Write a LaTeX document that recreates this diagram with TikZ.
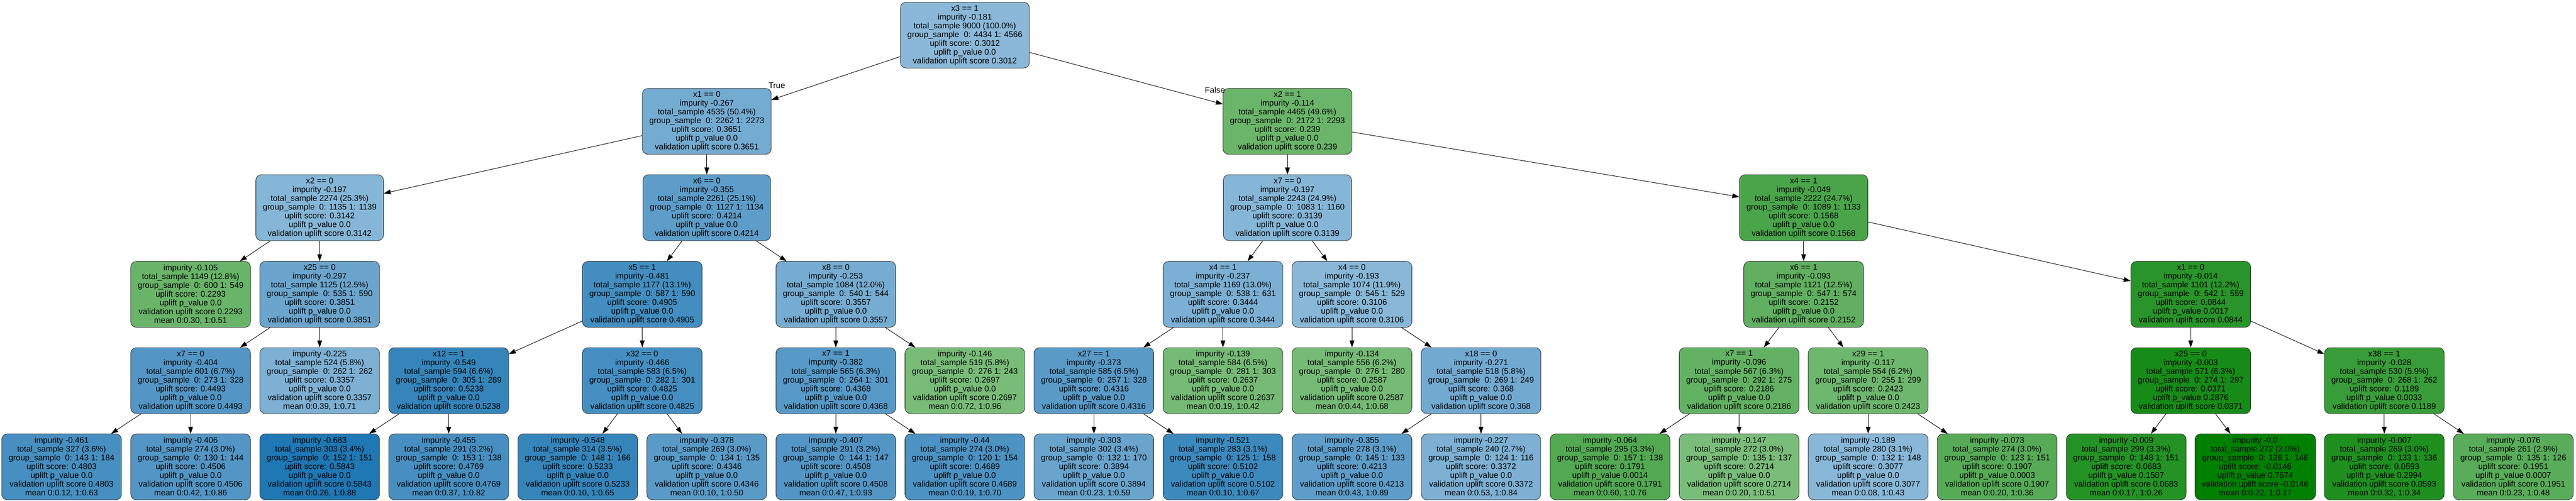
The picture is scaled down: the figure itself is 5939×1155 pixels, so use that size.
\documentclass[tikz,border=0pt]{standalone}
\usepackage{fontspec}
\setmainfont{Liberation Sans}
\usetikzlibrary{arrows.meta}
\definecolor{ublue}{RGB}{31,119,180}
\definecolor{ugreen}{RGB}{0,128,0}
\newcommand{\IntTxt}[7]{#1\\impurity #2\\total\_sample #3\\group\_sample\ \ 0: #4 1: #5\\uplift score: #6\\uplift p\_value #7\\validation uplift score #6}
\newcommand{\LeafTxt}[7]{impurity #1\\total\_sample #2\\group\_sample\ \ 0: #3 1: #4\\uplift score: #5\\uplift p\_value #6\\validation uplift score #5\\mean #7}
\begin{document}
\begin{tikzpicture}[x=1pt,y=-1pt,
 box/.style={draw=black!85, rounded corners=13pt, line width=1pt, align=center,
   inner xsep=16pt, inner ysep=0pt, minimum height=152pt,
   font=\fontsize{18.9pt}{20.2pt}\selectfont},
 bl/.style={box, fill=ublue!#1!white},
 gr/.style={box, fill=ugreen!#1!white},
 edge/.style={line width=1.1pt, -{Triangle[length=16pt,width=11pt]}},
 lbl/.style={font=\fontsize{18.9pt}{20.2pt}\selectfont, inner sep=0pt}]
\useasboundingbox (0,0) rectangle (5939,1155);
% level 0
\node[bl=52] (root) at (2224.5,81) {\IntTxt{x3 == 1}{-0.181}{9000 (100.0\%)}{4434}{4566}{0.3012}{0.0}};
% level 1
\node[bl=62] (n1) at (1629.5,280) {\IntTxt{x1 == 0}{-0.267}{4535 (50.4\%)}{2262}{2273}{0.3651}{0.0}};
\node[gr=58] (n2) at (2968.25,280) {\IntTxt{x2 == 1}{-0.114}{4465 (49.6\%)}{2172}{2293}{0.239}{0.0}};
% level 2
\node[bl=54] (n3) at (737,479) {\IntTxt{x2 == 0}{-0.197}{2274 (25.3\%)}{1135}{1139}{0.3142}{0.0}};
\node[bl=72] (n4) at (1629.5,479) {\IntTxt{x6 == 0}{-0.355}{2261 (25.1\%)}{1127}{1134}{0.4214}{0.0}};
\node[bl=54] (n5) at (2968.25,479) {\IntTxt{x7 == 0}{-0.197}{2243 (24.9\%)}{1083}{1160}{0.3139}{0.0}};
\node[gr=71] (n6) at (4158.25,479) {\IntTxt{x4 == 1}{-0.049}{2222 (24.7\%)}{1089}{1133}{0.1568}{0.0}};
% level 3
\node[gr=59] (n7) at (439.5,679) {\LeafTxt{-0.105}{1149 (12.8\%)}{600}{549}{0.2293}{0.0}{0:0.30, 1:0.51}};
\node[bl=66] (n8) at (737,679) {\IntTxt{x25 == 0}{-0.297}{1125 (12.5\%)}{535}{590}{0.3851}{0.0}};
\node[bl=84] (n9) at (1480.75,679) {\IntTxt{x5 == 1}{-0.481}{1177 (13.1\%)}{587}{590}{0.4905}{0.0}};
\node[bl=61] (n10) at (1927,679) {\IntTxt{x8 == 0}{-0.253}{1084 (12.0\%)}{540}{544}{0.3557}{0.0}};
\node[bl=59] (n11) at (2819.5,679) {\IntTxt{x4 == 1}{-0.237}{1169 (13.0\%)}{538}{631}{0.3444}{0.0}};
\node[bl=53] (n12) at (3117,679) {\IntTxt{x4 == 0}{-0.193}{1074 (11.9\%)}{545}{529}{0.3106}{0.0}};
\node[gr=62] (n13) at (4158.25,679) {\IntTxt{x6 == 1}{-0.093}{1121 (12.5\%)}{547}{574}{0.2152}{0.0}};
\node[gr=84] (n14) at (5050.75,679) {\IntTxt{x1 == 0}{-0.014}{1101 (12.2\%)}{542}{559}{0.0844}{0.0017}};
% level 4
\node[bl=77] (n15) at (439.5,878) {\IntTxt{x7 == 0}{-0.404}{601 (6.7\%)}{273}{328}{0.4493}{0.0}};
\node[bl=58] (n16) at (737,878) {\LeafTxt{-0.225}{524 (5.8\%)}{262}{262}{0.3357}{0.0}{0:0.39, 1:0.71}};
\node[bl=90] (n17) at (1034.5,878) {\IntTxt{x12 == 1}{-0.549}{594 (6.6\%)}{305}{289}{0.5238}{0.0}};
\node[bl=83] (n18) at (1480.75,878) {\IntTxt{x32 == 0}{-0.466}{583 (6.5\%)}{282}{301}{0.4825}{0.0}};
\node[bl=75] (n19) at (1927,878) {\IntTxt{x7 == 1}{-0.382}{565 (6.3\%)}{264}{301}{0.4368}{0.0}};
\node[gr=53] (n20) at (2224.5,878) {\LeafTxt{-0.146}{519 (5.8\%)}{276}{243}{0.2697}{0.0}{0:0.72, 1:0.96}};
\node[bl=74] (n21) at (2522,878) {\IntTxt{x27 == 1}{-0.373}{585 (6.5\%)}{257}{328}{0.4316}{0.0}};
\node[gr=54] (n22) at (2819.5,878) {\LeafTxt{-0.139}{584 (6.5\%)}{281}{303}{0.2637}{0.0}{0:0.19, 1:0.42}};
\node[gr=54] (n23) at (3117,878) {\LeafTxt{-0.134}{556 (6.2\%)}{276}{280}{0.2587}{0.0}{0:0.44, 1:0.68}};
\node[bl=63] (n24) at (3414.5,878) {\IntTxt{x18 == 0}{-0.271}{518 (5.8\%)}{269}{249}{0.368}{0.0}};
\node[gr=61] (n25) at (4009.5,878) {\IntTxt{x7 == 1}{-0.096}{567 (6.3\%)}{292}{275}{0.2186}{0.0}};
\node[gr=57] (n26) at (4307,878) {\IntTxt{x29 == 1}{-0.117}{554 (6.2\%)}{255}{299}{0.2423}{0.0}};
\node[gr=91] (n27) at (5050.75,878) {\IntTxt{x25 == 0}{-0.003}{571 (6.3\%)}{274}{297}{0.0371}{0.2876}};
\node[gr=78] (n28) at (5497,878) {\IntTxt{x38 == 1}{-0.028}{530 (5.9\%)}{268}{262}{0.1189}{0.0033}};
% level 5
\node[bl=82] (l0) at (142,1077) {\LeafTxt{-0.461}{327 (3.6\%)}{143}{184}{0.4803}{0.0}{0:0.12, 1:0.63}};
\node[bl=77] (l1) at (439.5,1077) {\LeafTxt{-0.406}{274 (3.0\%)}{130}{144}{0.4506}{0.0}{0:0.42, 1:0.86}};
\node[bl=100] (l2) at (737,1077) {\LeafTxt{-0.683}{303 (3.4\%)}{152}{151}{0.5843}{0.0}{0:0.26, 1:0.88}};
\node[bl=82] (l3) at (1034.5,1077) {\LeafTxt{-0.455}{291 (3.2\%)}{153}{138}{0.4769}{0.0}{0:0.37, 1:0.82}};
\node[bl=90] (l4) at (1332,1077) {\LeafTxt{-0.548}{314 (3.5\%)}{148}{166}{0.5233}{0.0}{0:0.10, 1:0.65}};
\node[bl=74] (l5) at (1629.5,1077) {\LeafTxt{-0.378}{269 (3.0\%)}{134}{135}{0.4346}{0.0}{0:0.10, 1:0.50}};
\node[bl=77] (l6) at (1927,1077) {\LeafTxt{-0.407}{291 (3.2\%)}{144}{147}{0.4508}{0.0}{0:0.47, 1:0.93}};
\node[bl=80] (l7) at (2224.5,1077) {\LeafTxt{-0.44}{274 (3.0\%)}{120}{154}{0.4689}{0.0}{0:0.19, 1:0.70}};
\node[bl=67] (l8) at (2522,1077) {\LeafTxt{-0.303}{302 (3.4\%)}{132}{170}{0.3894}{0.0}{0:0.23, 1:0.59}};
\node[bl=87] (l9) at (2819.5,1077) {\LeafTxt{-0.521}{283 (3.1\%)}{125}{158}{0.5102}{0.0}{0:0.10, 1:0.67}};
\node[bl=72] (l10) at (3117,1077) {\LeafTxt{-0.355}{278 (3.1\%)}{145}{133}{0.4213}{0.0}{0:0.43, 1:0.89}};
\node[bl=58] (l11) at (3414.5,1077) {\LeafTxt{-0.227}{240 (2.7\%)}{124}{116}{0.3372}{0.0}{0:0.53, 1:0.84}};
\node[gr=68] (l12) at (3712,1077) {\LeafTxt{-0.064}{295 (3.3\%)}{157}{138}{0.1791}{0.0014}{0:0.60, 1:0.76}};
\node[gr=52] (l13) at (4009.5,1077) {\LeafTxt{-0.147}{272 (3.0\%)}{135}{137}{0.2714}{0.0}{0:0.20, 1:0.51}};
\node[bl=53] (l14) at (4307,1077) {\LeafTxt{-0.189}{280 (3.1\%)}{132}{148}{0.3077}{0.0}{0:0.08, 1:0.43}};
\node[gr=66] (l15) at (4604.5,1077) {\LeafTxt{-0.073}{274 (3.0\%)}{123}{151}{0.1907}{0.0003}{0:0.20, 1:0.36}};
\node[gr=86] (l16) at (4902,1077) {\LeafTxt{-0.009}{299 (3.3\%)}{148}{151}{0.0683}{0.1507}{0:0.17, 1:0.26}};
\node[gr=100] (l17) at (5199.5,1077) {\LeafTxt{-0.0}{272 (3.0\%)}{126}{146}{-0.0146}{0.7674}{0:0.22, 1:0.17}};
\node[gr=88] (l18) at (5497,1077) {\LeafTxt{-0.007}{269 (3.0\%)}{133}{136}{0.0593}{0.2994}{0:0.32, 1:0.34}};
\node[gr=65] (l19) at (5794.5,1077) {\LeafTxt{-0.076}{261 (2.9\%)}{135}{126}{0.1951}{0.0007}{0:0.23, 1:0.48}};
% edge labels
\node[lbl] (tlab) at (1791,197) {True};
\node[lbl] (flab) at (2801,208) {False};
% edges
\draw[edge] (root) -- (n1);
\draw[edge] (root) -- (n2);
\draw[edge] (n1) -- (n3);
\draw[edge] (n1) -- (n4);
\draw[edge] (n2) -- (n5);
\draw[edge] (n2) -- (n6);
\draw[edge] (n3) -- (n7);
\draw[edge] (n3) -- (n8);
\draw[edge] (n4) -- (n9);
\draw[edge] (n4) -- (n10);
\draw[edge] (n5) -- (n11);
\draw[edge] (n5) -- (n12);
\draw[edge] (n6) -- (n13);
\draw[edge] (n6) -- (n14);
\draw[edge] (n8) -- (n15);
\draw[edge] (n8) -- (n16);
\draw[edge] (n9) -- (n17);
\draw[edge] (n9) -- (n18);
\draw[edge] (n10) -- (n19);
\draw[edge] (n10) -- (n20);
\draw[edge] (n11) -- (n21);
\draw[edge] (n11) -- (n22);
\draw[edge] (n12) -- (n23);
\draw[edge] (n12) -- (n24);
\draw[edge] (n13) -- (n25);
\draw[edge] (n13) -- (n26);
\draw[edge] (n14) -- (n27);
\draw[edge] (n14) -- (n28);
\draw[edge] (n15) -- (l0);
\draw[edge] (n15) -- (l1);
\draw[edge] (n17) -- (l2);
\draw[edge] (n17) -- (l3);
\draw[edge] (n18) -- (l4);
\draw[edge] (n18) -- (l5);
\draw[edge] (n19) -- (l6);
\draw[edge] (n19) -- (l7);
\draw[edge] (n21) -- (l8);
\draw[edge] (n21) -- (l9);
\draw[edge] (n24) -- (l10);
\draw[edge] (n24) -- (l11);
\draw[edge] (n25) -- (l12);
\draw[edge] (n25) -- (l13);
\draw[edge] (n26) -- (l14);
\draw[edge] (n26) -- (l15);
\draw[edge] (n27) -- (l16);
\draw[edge] (n27) -- (l17);
\draw[edge] (n28) -- (l18);
\draw[edge] (n28) -- (l19);
\end{tikzpicture}
\end{document}
